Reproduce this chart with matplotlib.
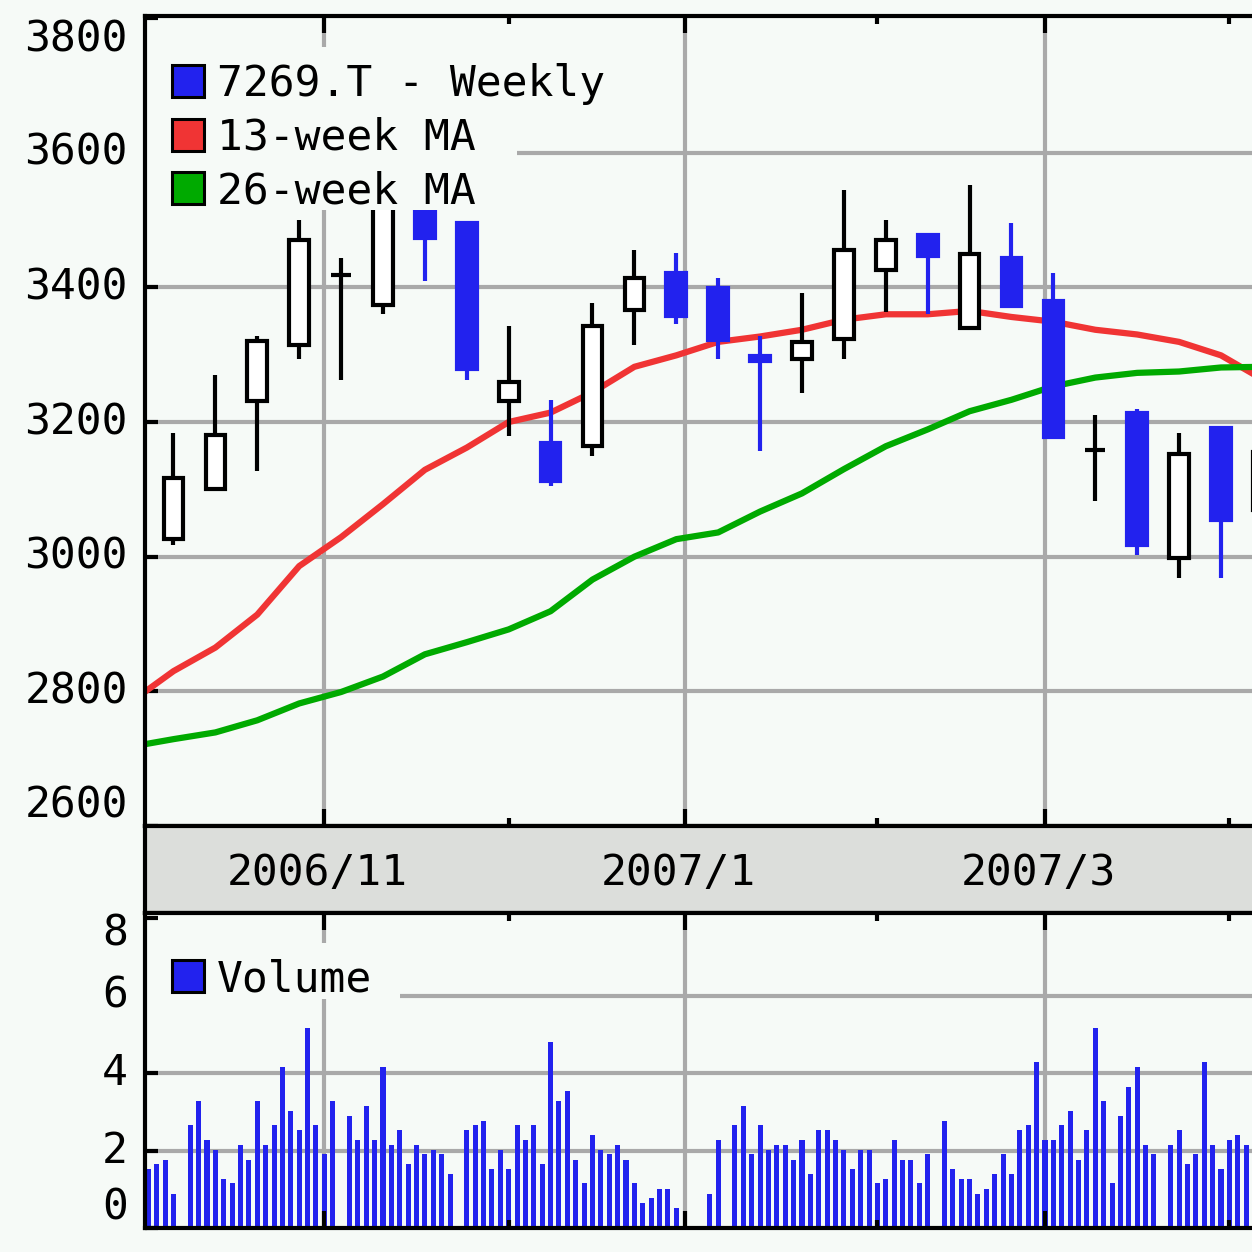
import numpy as np
import pandas as pd
import matplotlib
matplotlib.use('Agg')
import matplotlib.pyplot as plt
from matplotlib.patches import Rectangle
import matplotlib.transforms as mtransforms

plt.rcParams['font.family'] = ['DejaVu Sans Mono', 'DejaVu Sans']

# ---------------- data ----------------
candle_dates = pd.date_range('2006-10-06', periods=27, freq='7D')   # week-ending Fridays
opens  = [3026, 3100, 3231, 3315, 3419, 3374, 3540, 3496, 3231, 3169,
          3164, 3367, 3421, 3399, 3298, 3294, 3323, 3426, 3478, 3340,
          3444, 3379, 3159, 3214, 2998, 3191, 3070]
highs  = [3184, 3270, 3327, 3500, 3444, 3560, 3550, 3498, 3342, 3233,
          3377, 3456, 3451, 3414, 3327, 3392, 3545, 3500, 3478, 3552,
          3496, 3421, 3211, 3219, 3184, 3191, 3170]
lows   = [3018, 3100, 3127, 3293, 3263, 3360, 3409, 3263, 3179, 3105,
          3149, 3315, 3345, 3293, 3157, 3243, 3293, 3364, 3360, 3338,
          3373, 3177, 3082, 3003, 2969, 2969, 3060]
closes = [3117, 3181, 3320, 3471, 3419, 3530, 3473, 3278, 3260, 3112,
          3342, 3414, 3357, 3322, 3291, 3319, 3456, 3471, 3446, 3449,
          3373, 3177, 3159, 3018, 3152, 3055, 3155]

ma_dates = pd.date_range('2006-09-29', periods=28, freq='7D')
ma13 = [2785, 2830, 2865, 2914, 2986, 3029, 3078, 3129, 3162, 3200,
        3214, 3244, 3282, 3299, 3319, 3327, 3337, 3352, 3360, 3360,
        3365, 3356, 3349, 3337, 3330, 3319, 3299, 3263]
ma26 = [2718, 2729, 2739, 2757, 2782, 2799, 2822, 2855, 2873, 2892,
        2919, 2966, 3000, 3026, 3036, 3067, 3094, 3130, 3164, 3189,
        3216, 3233, 3253, 3266, 3273, 3275, 3281, 3282]

holidays = ['2006-10-09', '2006-11-03', '2006-11-23', '2007-01-01', '2007-01-02',
            '2007-01-03', '2007-01-08', '2007-02-12', '2007-03-21']
all_days = pd.bdate_range('2006-10-03', '2007-04-04')
trade_dates = all_days[~all_days.isin(pd.to_datetime(holidays))]
volume = [1.51, 1.64, 1.76, 0.89,
          2.66, 3.29, 2.27, 2.01, 1.26, 1.15, 2.14, 1.76, 3.29, 2.14, 2.66, 4.15, 3.03, 2.53, 5.15, 2.66, 1.91, 3.29,
          2.90, 2.27, 3.15, 2.27, 4.15, 2.14, 2.53, 1.64, 2.14, 1.91, 2.01, 1.91, 1.39,
          2.53, 2.66, 2.77, 1.51, 2.01, 1.51, 2.66, 2.27, 2.66, 1.64, 4.79, 3.29, 3.54, 1.76, 1.15, 2.40, 2.01,
          1.91, 2.14, 1.76, 1.15, 0.64, 0.77, 1.01, 1.01, 0.51,
          0.89, 2.27,
          2.66, 3.15, 1.91, 2.66, 2.01, 2.14, 2.14, 1.76, 2.27, 1.39, 2.53, 2.53, 2.27, 2.01, 1.51, 2.01, 2.01,
          1.15, 1.26, 2.27, 1.76, 1.76, 1.15, 1.91,
          2.77, 1.51, 1.26, 1.26, 0.89, 1.01, 1.39, 1.91, 1.39, 2.53, 2.66, 4.29, 2.27, 2.27, 2.66, 3.03, 1.76,
          2.53, 5.15, 3.29, 1.15, 2.90, 3.65, 4.15, 2.14, 1.91,
          2.14, 2.53, 1.64, 1.91, 4.29, 2.14, 1.51, 2.27, 2.40, 2.14]

price_ticks = [2600, 2800, 3000, 3200, 3400, 3600, 3800]
volume_ticks = [0, 2, 4, 6, 8]
major_months = ['2006-11-01', '2007-01-01', '2007-03-01']
major_labels = ['2006/11', '2007/1', '2007/3']
minor_months = ['2006-12-01', '2007-02-01', '2007-04-01']
legend_labels = ['7269.T - Weekly', '13-week MA', '26-week MA']
volume_label = 'Volume'

# ---------------- style ----------------
BG = '#f6faf7'
STRIP = '#dcdedb'
GRID = '#a9a9a9'
BLUE = '#2222ee'
RED = '#f03434'
GREEN = '#00aa00'
FS = 31

ORIGIN = np.datetime64('2006-10-03')


def slot(dates):
    d = pd.DatetimeIndex(dates).values.astype('datetime64[D]')
    return np.busday_count(ORIGIN, d).astype(float)


W = H = 1252
fig = plt.figure(figsize=(W / 100, H / 100), dpi=100, facecolor=BG)
pix = mtransforms.Affine2D().scale(1 / W, -1 / H).translate(0, 1) + fig.transFigure


def add_ax(l, t, r, b):
    a = fig.add_axes([l / W, 1 - b / H, (r - l) / W, (b - t) / H])
    a.set_facecolor(BG)
    for s in ['left', 'top', 'bottom']:
        a.spines[s].set_linewidth(3)
        a.spines[s].set_color('black')
        a.spines[s].set_zorder(3)
    a.spines['right'].set_visible(False)
    return a


ax = add_ax(145, 16, 1252, 826)
strip = add_ax(145, 826, 1252, 913)
vax = add_ax(145, 913, 1252, 1228)

XL = (-0.4, 131.7)
maj = slot(major_months)
mnr = slot(minor_months)

for a in (ax, vax):
    a.set_xlim(*XL)
    a.set_xticks(maj)
    a.set_xticks(mnr, minor=True)
    a.tick_params(which='both', direction='in', top=True, bottom=True, left=True, right=False,
                  labelleft=False, labelbottom=False, width=3, color='black')
    a.tick_params(axis='x', which='major', length=12)
    a.tick_params(axis='x', which='minor', length=6)
    a.tick_params(axis='y', which='major', length=9)
    for s in maj:
        a.axvline(s, color=GRID, lw=3, zorder=0.5)

# ---- price panel ----
ax.set_ylim(2601, 3803)
ax.set_yticks(price_ticks)
for v in price_ticks[1:-1]:
    ax.axhline(v, color=GRID, lw=3, zorder=0.5)

ax.plot(slot(ma_dates), ma13, color=RED, lw=4.5, zorder=1.8, solid_joinstyle='round')
ax.plot(slot(ma_dates), ma26, color=GREEN, lw=4.5, zorder=1.8, solid_joinstyle='round')

BW = 2.36
for x, o, h, l, c in zip(slot(candle_dates), opens, highs, lows, closes):
    up = c >= o
    col = 'black' if up else BLUE
    ax.plot([x, x], [l, h], color=col, lw=3, solid_capstyle='butt', zorder=2.1)
    ax.add_patch(Rectangle((x - BW / 2, min(o, c)), BW, abs(c - o),
                           facecolor='white' if up else BLUE, edgecolor=col,
                           lw=3, joinstyle='miter', zorder=2.2))

ylab_tr = mtransforms.blended_transform_factory(pix, ax.transData)
for v in price_ticks:
    va = 'top' if v == price_ticks[-1] else ('bottom' if v == price_ticks[0] else 'center')
    ax.text(128, v, str(v), transform=ylab_tr, ha='right', va=va, fontsize=FS, color='black')

# legend (price)
ax.add_patch(Rectangle((147, 47), 513, 60, transform=pix, facecolor=BG, edgecolor='none', zorder=2.45))
ax.add_patch(Rectangle((147, 107), 370, 103, transform=pix, facecolor=BG, edgecolor='none', zorder=2.45))
for i, (lab, col) in enumerate(zip(legend_labels, [BLUE, RED, GREEN])):
    cy = 81 + 53.5 * i
    ax.add_patch(Rectangle((172, cy - 16), 32, 32, transform=pix, facecolor=col,
                           edgecolor='black', lw=2.2, zorder=2.46))
    ax.text(217, cy + 3, lab, transform=pix, ha='left', va='center', fontsize=FS,
            color='black', zorder=2.47)

# ---- date strip ----
strip.set_facecolor(STRIP)
strip.set_xlim(*XL)
strip.set_xticks([])
strip.set_yticks([])
strip_tr = mtransforms.blended_transform_factory(strip.transData, pix)
for s, lab in zip(maj, major_labels):
    strip.text(s - 0.8, 873, lab, transform=strip_tr, ha='center', va='center', fontsize=FS, color='black')

# ---- volume panel ----
vax.set_ylim(0, 8.13)
vax.set_yticks(volume_ticks)
for v in volume_ticks[1:-1]:
    vax.axhline(v, color=GRID, lw=3, zorder=0.5)
vax.bar(slot(trade_dates), volume, width=0.6, color=BLUE, linewidth=0, zorder=1.5)

vlab_tr = mtransforms.blended_transform_factory(pix, vax.transData)
for v in volume_ticks:
    va = 'top' if v == volume_ticks[-1] else ('bottom' if v == volume_ticks[0] else 'center')
    yv = 8.13 if v == volume_ticks[-1] else v
    vax.text(128, yv, str(v), transform=vlab_tr, ha='right', va=va, fontsize=FS, color='black')

vax.add_patch(Rectangle((147, 943), 253, 56, transform=pix, facecolor=BG, edgecolor='none', zorder=2.45))
vax.add_patch(Rectangle((172, 960), 32, 32, transform=pix, facecolor=BLUE,
                        edgecolor='black', lw=2.2, zorder=2.46))
vax.text(217, 979, volume_label, transform=pix, ha='left', va='center', fontsize=FS,
         color='black', zorder=2.47)

fig.savefig('out.png', dpi=100, facecolor=BG)
